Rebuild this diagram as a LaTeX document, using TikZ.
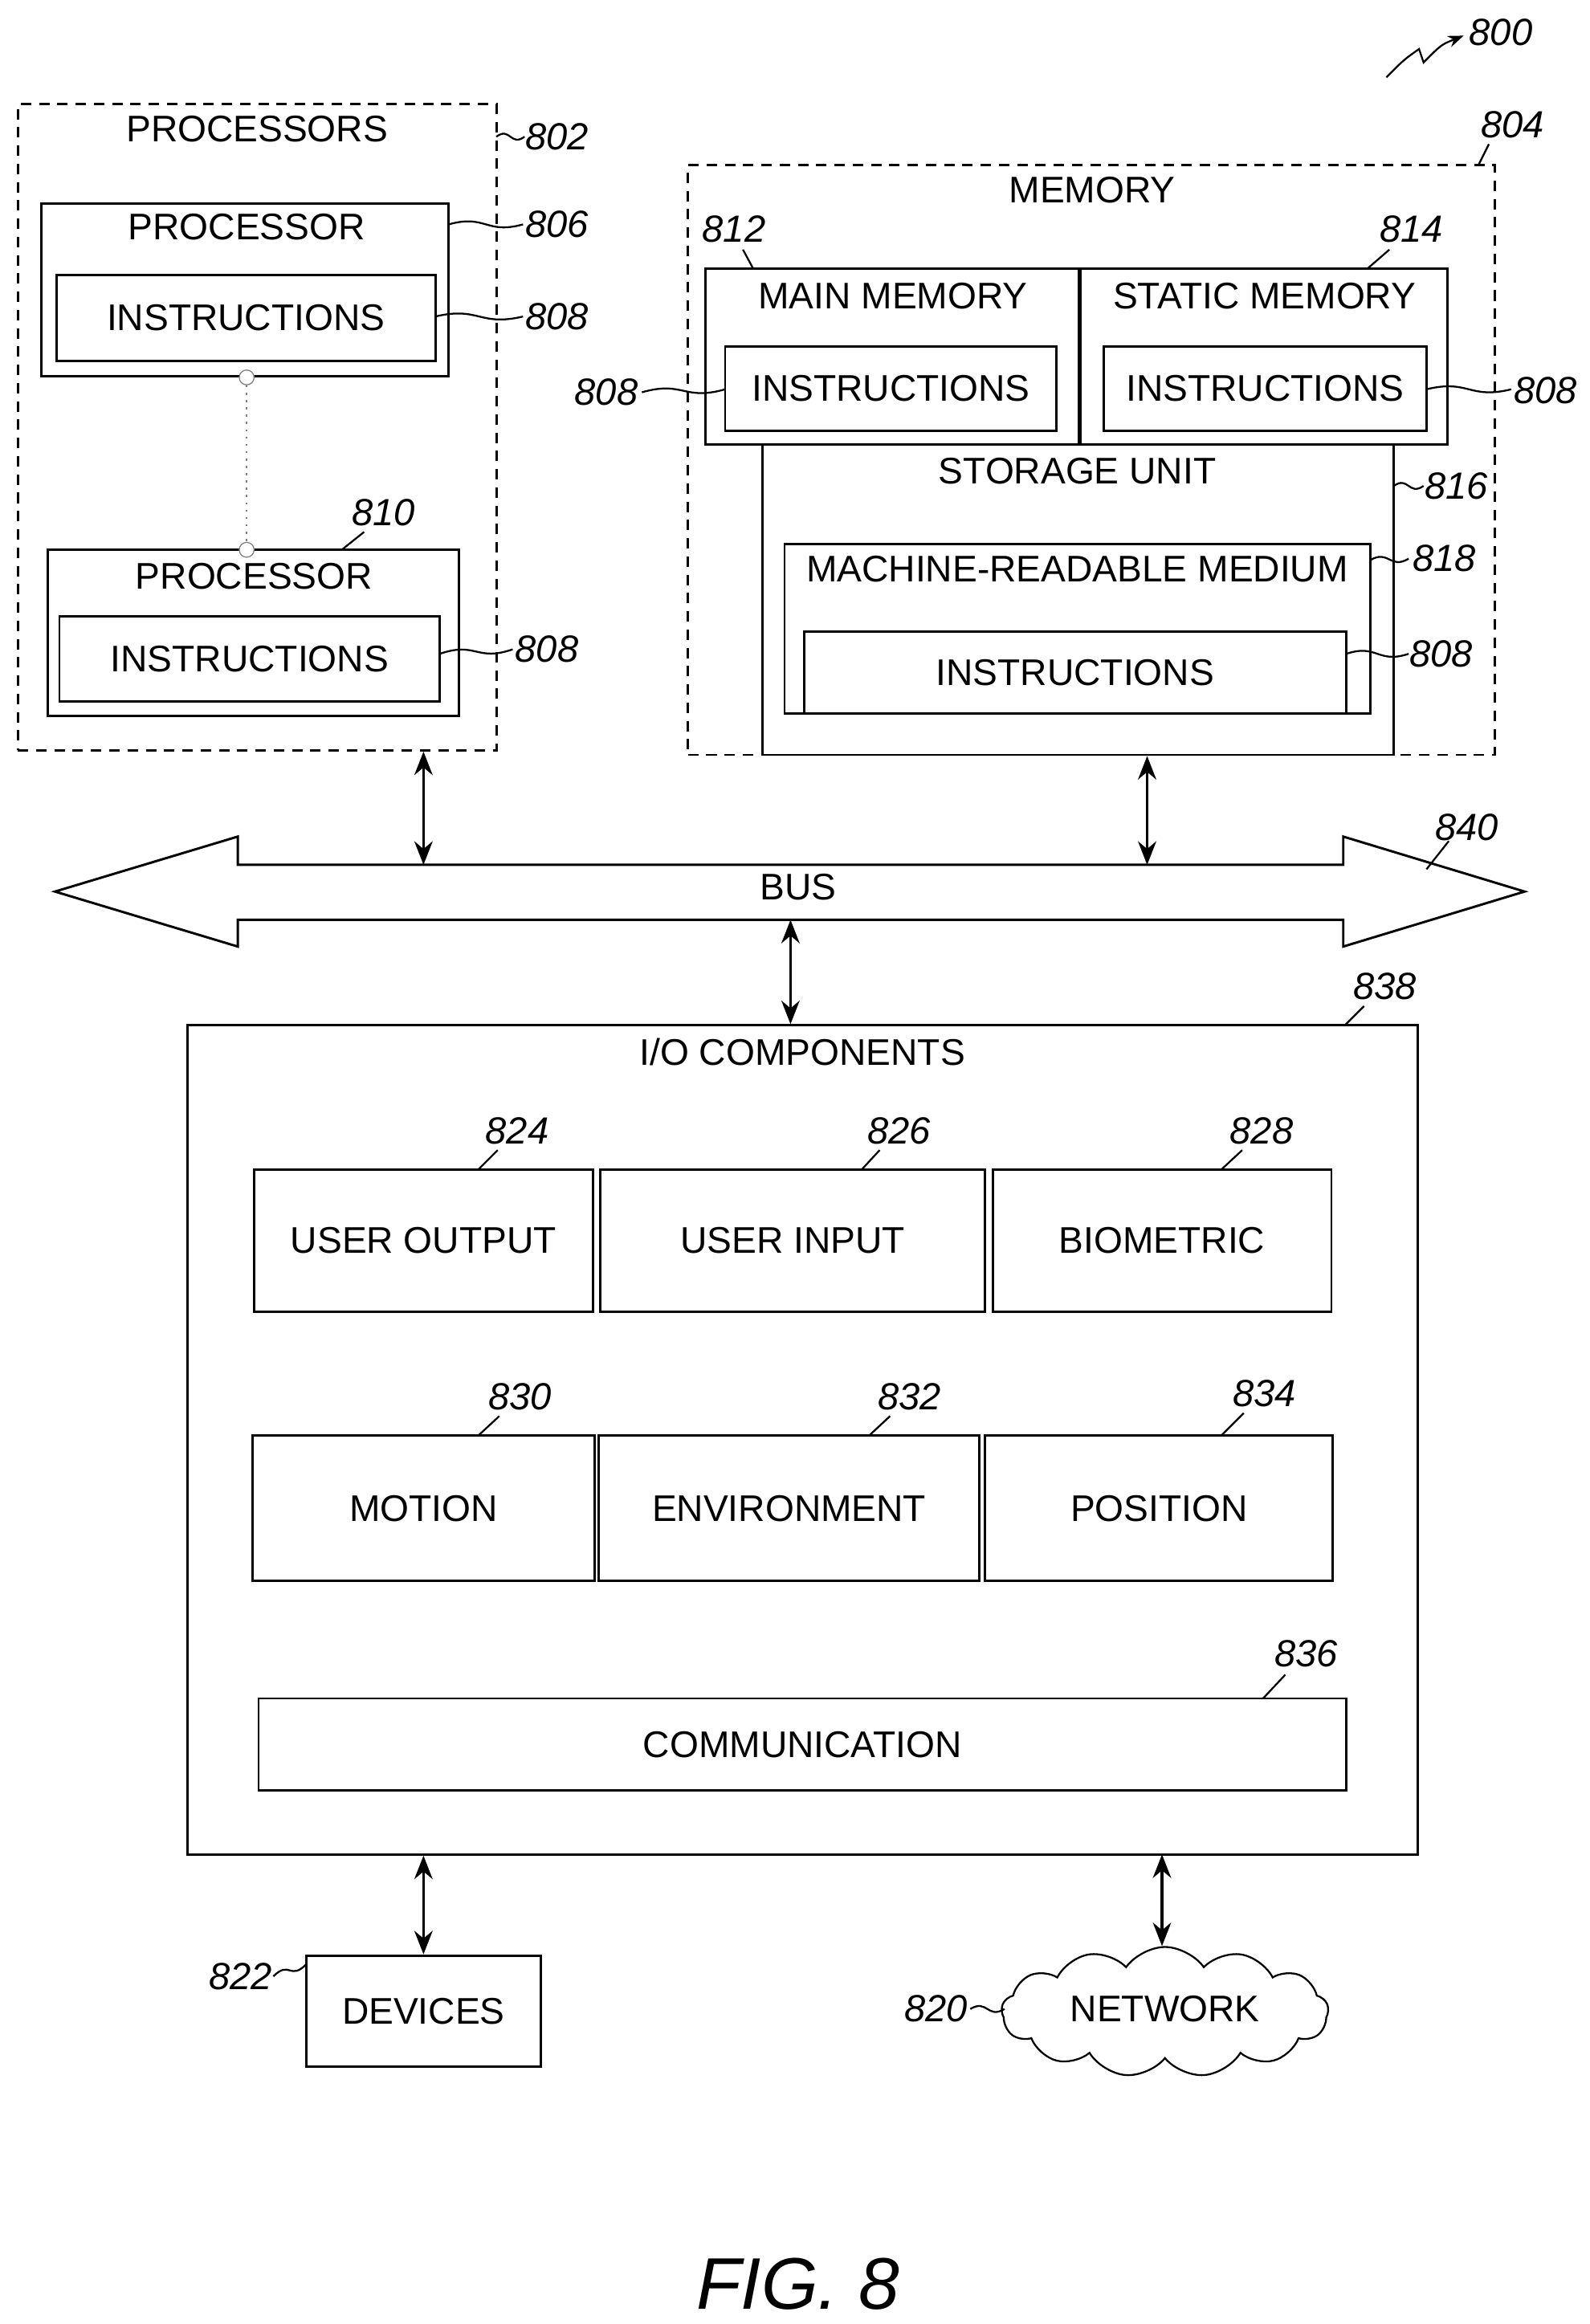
\documentclass[tikz,border=0pt]{standalone}
\usepackage{fontspec}
\setmainfont{Liberation Sans}
\usetikzlibrary{shapes.symbols,arrows.meta,calc}

\tikzset{%
  % Specifications for style of nodes:
         box/.style = {rectangle, draw=black, line width=0.9pt, inner sep=0pt},
        dbox/.style = {box, dashed, dash pattern=on 4pt off 3pt},
         txt/.style = {font=\fontsize{14.2}{17}\selectfont, inner sep=0pt},
         num/.style = {font=\fontsize{14.5}{17}\selectfont\itshape, inner sep=0pt},
         ldr/.style = {line width=0.7pt},
        link/.style = {{Stealth[length=9pt,width=7pt]}-{Stealth[length=9pt,width=7pt]}, line width=1pt},
}
% box from pixel corners: name, x1, y1, x2, y2
\newcommand\bx[6][box]{\node (#2) [#1, minimum width={(#5-#3)*0.02cm}, minimum height={(#6-#4)*0.02cm}] at ({(#3+#5)/2},{(#4+#6)/2}) {};}
% reference numeral with wavy leader: from, to, label position, text
\newcommand\refnum[7]{\draw[ldr] (#1,#2) .. controls ($(#1,#2)!0.5!(#3,#4)+(0,-7)$) and ($(#1,#2)!0.5!(#3,#4)+(0,7)$) .. (#3,#4); \node[num] (#7) at (#5,#6) {#7};}

\begin{document}
\begin{tikzpicture}[x=0.02cm, y=-0.02cm]
    \useasboundingbox (0,0) rectangle (1070,1564);

    % Processors
    \bx[dbox]{procs}{12}{70}{334}{505}
    \node[txt] at (173,87) {PROCESSORS};
    \bx{procA}{28}{137}{302}{253}
    \node[txt] at (166,153) {PROCESSOR};
    \bx{instrA}{38}{185}{293}{243}
    \node[txt] at (instrA) {INSTRUCTIONS};
    \bx{procB}{32}{370}{309}{482}
    \node[txt] at (171,388) {PROCESSOR};
    \bx{instrB}{40}{415}{296}{472}
    \node[txt] at (instrB) {INSTRUCTIONS};
    \node (dotA) [circle, draw, gray, inner sep=0pt, minimum size=0.2cm, fill=white] at (166,254) {};
    \node (dotB) [circle, draw, gray, inner sep=0pt, minimum size=0.2cm, fill=white] at (166,370) {};
    \draw[gray, dotted, line width=0.8pt] (dotA) -- (dotB);

    % Memory
    \bx[dbox]{mem}{463}{111}{1006}{508}
    \node[txt] at (735,128) {MEMORY};
    \bx{mainmem}{475}{181}{726}{299}
    \node[txt] at (601,199) {MAIN MEMORY};
    \bx{instrC}{488}{233}{711}{290}
    \node[txt] at (instrC) {INSTRUCTIONS};
    \bx{statmem}{727}{181}{974}{299}
    \node[txt] at (851,199) {STATIC MEMORY};
    \bx{instrD}{743}{233}{960}{290}
    \node[txt] at (instrD) {INSTRUCTIONS};
    \bx{storage}{513}{299}{938}{508}
    \node[txt] at (725,317) {STORAGE UNIT};
    \bx{mrm}{528}{366}{922}{480}
    \node[txt] at (725,383) {MACHINE-READABLE MEDIUM};
    \bx{instrE}{541}{425}{906}{480}
    \node[txt] at (instrE) {INSTRUCTIONS};

    % Bus
    \draw[line width=0.9pt] (37,600) -- (160,563) -- (160,582) -- (904,582) -- (904,563) -- (1026,600)
        -- (904,637) -- (904,619) -- (160,619) -- (160,637) -- cycle;
    \node (bus) [txt] at (537,597) {BUS};
    \coordinate (busP) at (285,582);
    \coordinate (busM) at (772,582);
    \coordinate (busIO) at (532,619);

    % I/O components
    \bx{io}{126}{690}{954}{1248}
    \node[txt] at (540,708) {I/O COMPONENTS};
    \bx{uout}{171}{787}{399}{883}   \node[txt] at (uout) {USER OUTPUT};
    \bx{uin}{404}{787}{663}{883}    \node[txt] at (uin) {USER INPUT};
    \bx{bio}{668}{787}{896}{883}    \node[txt] at (bio) {BIOMETRIC};
    \bx{motion}{170}{966}{400}{1064} \node[txt] at (motion) {MOTION};
    \bx{env}{403}{966}{659}{1064}   \node[txt] at (env) {ENVIRONMENT};
    \bx{pos}{663}{966}{897}{1064}   \node[txt] at (pos) {POSITION};
    \bx{comm}{174}{1143}{906}{1205} \node[txt] at (comm) {COMMUNICATION};

    \bx{devices}{206}{1316}{364}{1391}
    \node[txt] at (devices) {DEVICES};
    \node (network) [cloud, cloud puffs=13, cloud puff arc=110, aspect=2.6, draw, line width=0.7pt,
        minimum width=4.4cm, minimum height=1.75cm, inner sep=0pt] at (784,1354) {};
    \node[txt] at (784,1352) {NETWORK};

    % Draw arrows
    \draw[link] (procs.south -| busP) -- (busP);
    \draw[link] (storage.south -| busM) -- (busM);
    \draw[link] (busIO) -- (io.north -| busIO);
    \draw[link] (io.south -| devices) -- (devices);
    \draw[link] (782,1248) -- (network.north -| 782,0);

    % Reference numerals
    \refnum{334}{92}{353}{92}{375}{92}{802}
    \refnum{302}{151}{352}{151}{375}{151}{806}
    \refnum{293}{213}{352}{213}{375}{213}{808}
    \refnum{296}{440}{345}{437}{368}{437}{808}
    \draw[ldr] (230,370) -- (245,358); \node[num] at (258,345) {810};
    \draw[ldr] (995,111) -- (1002,97); \node[num] at (1018,84) {804};
    \draw[ldr] (507,181) -- (500,168); \node[num] at (494,154) {812};
    \draw[ldr] (920,181) -- (935,168); \node[num] at (950,154) {814};
    \refnum{432}{264}{488}{262}{408}{264}{808}
    \refnum{960}{262}{1017}{262}{1040}{263}{808}
    \refnum{938}{327}{958}{327}{980}{327}{816}
    \refnum{922}{377}{948}{376}{972}{376}{818}
    \refnum{906}{440}{948}{440}{970}{440}{808}
    \draw[ldr] (960,585) -- (975,566); \node[num] at (987,557) {840};
    \draw[ldr] (905,690) -- (918,677); \node[num] at (932,664) {838};
    \draw[ldr] (322,787) -- (335,774); \node[num] at (348,761) {824};
    \draw[ldr] (580,787) -- (592,774); \node[num] at (605,761) {826};
    \draw[ldr] (822,787) -- (836,774); \node[num] at (849,761) {828};
    \draw[ldr] (322,966) -- (336,953); \node[num] at (350,940) {830};
    \draw[ldr] (585,966) -- (599,953); \node[num] at (612,940) {832};
    \draw[ldr] (822,966) -- (837,951); \node[num] at (851,938) {834};
    \draw[ldr] (850,1143) -- (865,1127); \node[num] at (879,1113) {836};
    \refnum{184}{1330}{206}{1322}{162}{1330}{822}
    \refnum{653}{1352}{676}{1352}{630}{1352}{820}
    \draw[ldr, -{Stealth[length=6pt]}] (933,52) .. controls (945,40) .. (955,33) -- (958,42) .. controls (970,30) .. (985,24);
    \node[num] at (1010,22) {800};

    \node[font=\fontsize{28}{32}\selectfont\itshape, inner sep=0pt] at (537,1537) {FIG. 8};
\end{tikzpicture}
\end{document}
